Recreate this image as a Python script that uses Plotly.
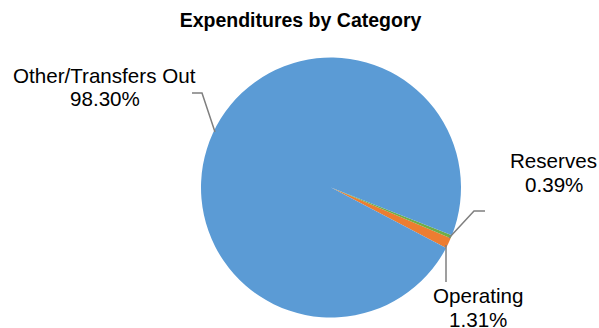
import plotly.graph_objects as go

# Expenditure shares by category (percent)
categories = ["Operating", "Reserves", "Other/Transfers Out"]
shares = [1.31, 0.39, 98.30]
colors = ["#ED7D31", "#70AD47", "#5B9BD5"]

W, H = 599, 328
FONT = "Liberation Sans, Arial, sans-serif"


def px(x):
    return x / W


def py(y):
    return 1 - y / H


fig = go.Figure(
    go.Pie(
        labels=categories,
        values=shares,
        sort=False,
        direction="counterclockwise",
        rotation=113,
        marker=dict(colors=colors, line=dict(width=0)),
        textinfo="none",
        hoverinfo="label+percent",
        showlegend=False,
        domain=dict(x=[px(201), px(461)], y=[py(317.5), py(57.5)]),
    )
)

# label placement (center x, name-line middle y) per category
label_pos = {
    "Operating": (477.5, 295.5),
    "Reserves": (553.5, 160.5),
    "Other/Transfers Out": (104.5, 75.5),
}
annotations = []
for name, val in zip(categories, shares):
    cx, cy = label_pos[name]
    for i, txt in enumerate([name, f"{val:.2f}%"]):
        annotations.append(
            dict(
                x=px(cx), y=py(cy + 23.5 * i), xref="paper", yref="paper",
                text=txt, showarrow=False, xanchor="center", yanchor="middle",
                borderpad=0,
                font=dict(family=FONT, size=20.6, color="#000000"),
            )
        )

# leader lines from labels to slices
leaders = [
    [(192, 93), (202, 93), (215, 132)],
    [(485, 211), (474, 211), (449, 238)],
    [(446, 245), (446, 282)],
]
shapes = []
for pts in leaders:
    path = "M " + " L ".join(f"{px(x)},{py(y)}" for x, y in pts)
    shapes.append(
        dict(type="path", xref="paper", yref="paper", path=path,
             line=dict(color="#7F7F7F", width=1.5))
    )

fig.update_layout(
    width=W,
    height=H,
    margin=dict(l=0, r=0, t=0, b=0),
    paper_bgcolor="white",
    plot_bgcolor="white",
    title=dict(
        text="<b>Expenditures by Category</b>",
        x=px(300.5), y=py(20.5), xanchor="center", yanchor="middle",
        font=dict(family=FONT, size=19.5, color="#000000"),
    ),
    annotations=annotations,
    shapes=shapes,
)

fig.write_html("out.html")
